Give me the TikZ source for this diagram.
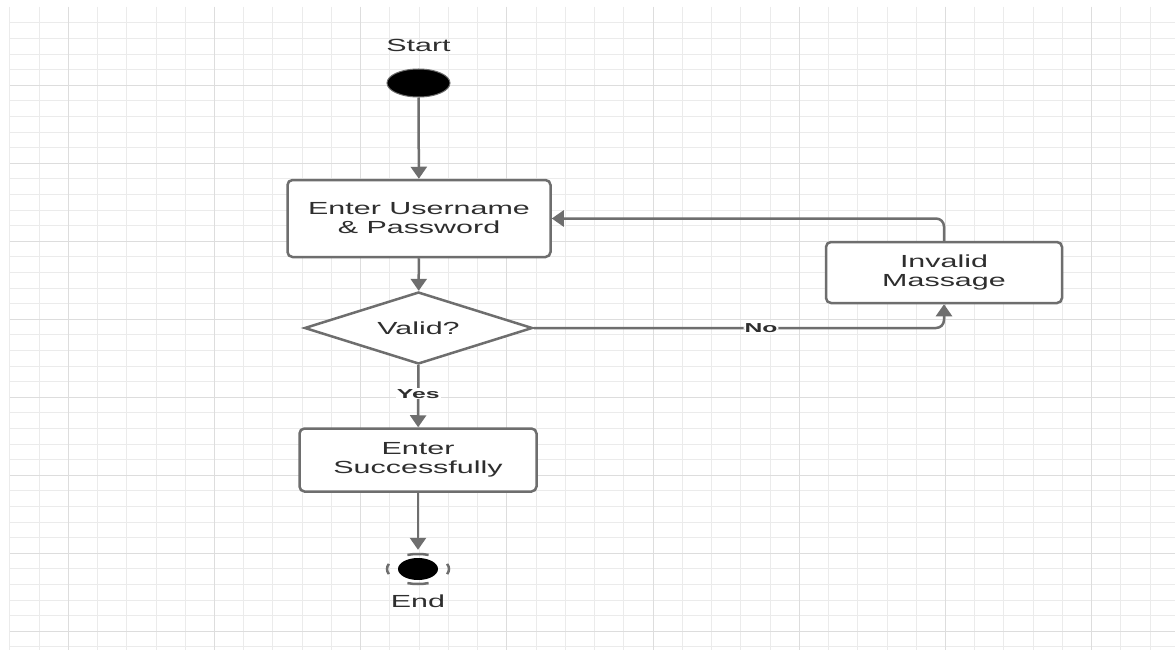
\documentclass[tikz,border=0pt]{standalone}
\usepackage{fontspec}
\setmainfont{Liberation Sans}
\usepackage{graphicx}
\usetikzlibrary{arrows.meta,shapes.geometric}
\definecolor{gridminor}{HTML}{EBEBEB}
\definecolor{gridmajor}{HTML}{DDDDDD}
\definecolor{linegray}{HTML}{6E6E6E}
\definecolor{textgray}{HTML}{2E2E2E}
\newcommand{\sx}[1]{\scalebox{1.74}[1]{#1}}
\newcommand{\sxb}[1]{\scalebox{1.9}[1]{#1}}
\begin{document}
\begin{tikzpicture}[x=1pt,y=-1pt,
  every node/.style={text=textgray, font=\fontsize{17.5}{19}\selectfont},
  actbox/.style={draw=linegray, line width=2.5pt, rounded corners=5pt, fill=white, inner sep=0pt, align=center},
  conn/.style={draw=linegray, line width=2.5pt, -{Triangle[width=16pt,length=12pt]}},
  edgelabel/.style={fill=white, inner sep=1pt, font=\bfseries\fontsize{13}{14}\selectfont},
  minorline/.style={draw=gridminor, line width=1pt},
  majorline/.style={draw=gridmajor, line width=1pt}
]
\useasboundingbox (0,0) rectangle (1175,650);
\fill[white] (0,0) rectangle (1175,650);
% grid
\foreach \k in {0,...,39} \draw[minorline] ({9.8+29.24*\k},7) -- ({9.8+29.24*\k},650);
\foreach \k in {1,...,41} \draw[minorline] (10,{7.3+15.6*\k}) -- (1175,{7.3+15.6*\k});
\foreach \k in {2,7,...,37} \draw[majorline] ({9.8+29.24*\k},7) -- ({9.8+29.24*\k},650);
\foreach \k in {5,10,...,40} \draw[majorline] (10,{7.3+15.6*\k}) -- (1175,{7.3+15.6*\k});

% nodes
\node[anchor=base] (startlbl) at (418.5,51.7) {\sx{Start}};
\node[ellipse, fill=black, draw=linegray, line width=1pt, minimum width=63pt, minimum height=28pt, inner sep=0pt] (start) at (418.5,83) {};
\node[actbox, minimum width=263pt, minimum height=77pt] (login) at (419,218.5) {\sx{Enter Username}\\\sx{\& Password}};
\node[diamond, aspect=3.17, draw=linegray, line width=2.5pt, fill=white, minimum width=228pt, minimum height=72pt, inner sep=0pt] (valid) at (418.5,328) {\sx{Valid?}};
\node[actbox, minimum width=237pt, minimum height=63pt] (success) at (418,460) {\sx{Enter}\\\sx{Successfully}};
\node[actbox, minimum width=236pt, minimum height=61pt] (invalid) at (944,272.5) {\sx{Invalid}\\\sx{Massage}};
\node[ellipse, minimum width=62pt, minimum height=30pt, inner sep=0pt] (end) at (418,569) {};
\node[ellipse, fill=black, minimum width=40pt, minimum height=22pt, inner sep=0pt] (endcore) at (end) {};
\draw[linegray, line width=2.5pt] (end.center) ++(70:31 and 15) arc[start angle=70, end angle=110, x radius=31, y radius=15];
\draw[linegray, line width=2.5pt] (end.center) ++(250:31 and 15) arc[start angle=250, end angle=290, x radius=31, y radius=15];
\draw[linegray, line width=2.5pt] (end.center) ++(160:31 and 15) arc[start angle=160, end angle=200, x radius=31, y radius=15];
\draw[linegray, line width=2.5pt] (end.center) ++(-20:31 and 15) arc[start angle=-20, end angle=20, x radius=31, y radius=15];
\node[anchor=base] (endlbl) at (418,607) {\sx{End}};

% connectors
\draw[conn] (start) -- (login);
\draw[conn] (login) -- (valid);
\draw[conn] (valid) -- node[edgelabel, pos=0.46] {\sxb{Yes}} (success);
\draw[conn, shorten >=4pt] (success) -- (end);
\draw[conn, rounded corners=8pt] (valid.east) -| node[edgelabel, pos=0.277] {\sxb{No}} (invalid.south);
\draw[conn, rounded corners=8pt] (invalid.north) |- (login.east);
\end{tikzpicture}
\end{document}
